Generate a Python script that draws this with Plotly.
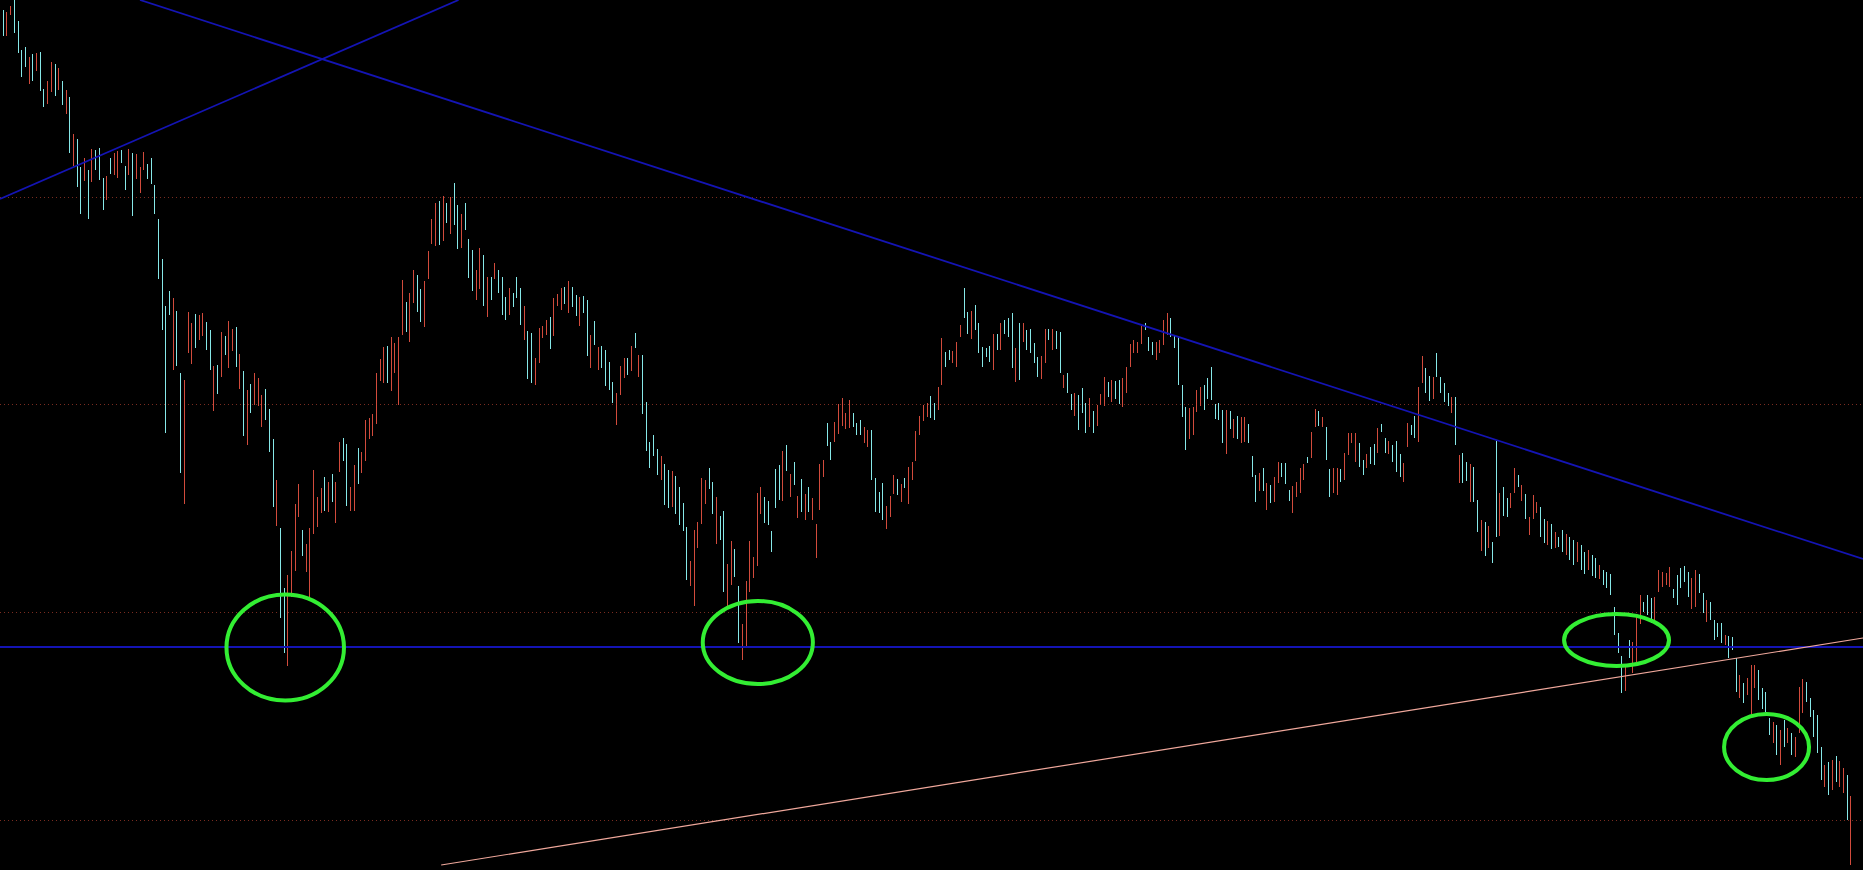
import plotly.graph_objects as go

# ---- price data (bar index = time, values in price points) ----
highs = [
    860, 858, 864, 875, 849, 820, 823, 813, 816, 817,
    818, 781, 789, 808, 806, 802, 789, 780, 773, 736,
    731, 703, 712, 700, 721, 720, 722, 692, 694, 712,
    717, 719, 720, 704, 721, 717, 716, 703, 718, 706,
    712, 685, 651, 611, 564, 579, 572, 559, 497, 490,
    558, 547, 556, 555, 557, 548, 540, 504, 505, 538,
    534, 549, 541, 543, 516, 499, 480, 486, 497, 492,
    475, 481, 461, 431, 390, 342, 282, 295, 319, 366,
    386, 340, 326, 342, 400, 373, 382, 393, 388, 396,
    388, 428, 432, 426, 383, 405, 422, 418, 450, 452,
    456, 497, 511, 523, 524, 533, 527, 533, 590, 568,
    577, 600, 595, 581, 589, 619, 651, 667, 669, 674,
    667, 673, 687, 665, 656, 667, 631, 620, 600, 622,
    615, 593, 593, 607, 600, 593, 573, 582, 577, 593,
    582, 564, 539, 537, 512, 542, 544, 550, 553, 572,
    576, 582, 583, 589, 583, 575, 573, 574, 570, 535,
    549, 523, 524, 520, 508, 488, 477, 504, 512, 512,
    524, 537, 515, 515, 468, 428, 435, 421, 414, 406,
    400, 399, 394, 383, 367, 343, 309, 340, 348, 392,
    390, 402, 388, 373, 354, 359, 306, 329, 321, 284,
    246, 289, 329, 313, 377, 383, 373, 369, 339, 401,
    405, 419, 425, 396, 408, 374, 391, 376, 383, 372,
    346, 406, 410, 447, 428, 448, 466, 472, 457, 470,
    457, 447, 450, 443, 440, 440, 392, 378, 387, 364,
    374, 395, 391, 386, 392, 403, 408, 439, 454, 465,
    467, 474, 467, 483, 532, 518, 520, 519, 528, 545,
    582, 558, 559, 565, 547, 523, 522, 524, 536, 536,
    547, 550, 552, 557, 522, 547, 547, 540, 541, 527,
    513, 514, 541, 541, 541, 539, 538, 495, 497, 476,
    477, 475, 482, 467, 472, 459, 465, 476, 493, 488,
    490, 489, 490, 492, 503, 526, 530, 528, 544, 547,
    533, 528, 528, 530, 550, 557, 552, 535, 534, 485,
    463, 462, 463, 480, 483, 485, 492, 503, 466, 467,
    460, 460, 459, 451, 454, 453, 453, 446, 414, 395,
    397, 402, 387, 385, 393, 408, 407, 407, 380, 384,
    388, 402, 406, 413, 438, 461, 459, 453, 443, 401,
    402, 402, 401, 417, 437, 437, 437, 427, 410, 416,
    423, 426, 442, 446, 432, 429, 425, 429, 416, 407,
    447, 445, 454, 483, 514, 502, 494, 493, 517, 493,
    487, 477, 473, 473, 415, 417, 408, 406, 403, 370,
    350, 348, 344, 328, 429, 377, 383, 372, 377, 402,
    395, 385, 376, 353, 375, 368, 363, 351, 349, 346,
    338, 333, 340, 336, 333, 330, 328, 325, 318, 320,
    315, 312, 305, 300, 298, 296, 263, 237, 214, 205,
    230, 228, 254, 275, 268, 275, 272, 273, 300, 298,
    297, 303, 281, 295, 302, 304, 298, 292, 300, 296,
    277, 270, 268, 250, 247, 247, 235, 234, 233, 212,
    195, 187, 192, 205, 205, 200, 182, 178, 152, 148,
    145, 140, 150, 142, 137, 133, 183, 191, 188, 172,
    160, 155, 123, 105, 108, 110, 114, 109, 102, 95, 74,
]

lows = [
    834, 834, 855, 837, 817, 793, 803, 786, 789, 799,
    779, 763, 766, 778, 774, 780, 765, 756, 717, 704,
    683, 656, 689, 651, 688, 700, 690, 660, 670, 696,
    695, 692, 707, 680, 695, 654, 691, 677, 700, 691,
    686, 656, 591, 540, 437, 555, 500, 504, 397, 366,
    517, 506, 522, 530, 534, 520, 500, 459, 476, 493,
    515, 502, 519, 503, 481, 434, 425, 457, 465, 464,
    443, 450, 418, 363, 344, 252, 217, 204, 273, 299,
    353, 314, 298, 273, 336, 343, 357, 359, 358, 368,
    347, 398, 409, 364, 359, 359, 386, 397, 409, 431,
    434, 446, 489, 487, 487, 479, 497, 465, 535, 538,
    528, 567, 558, 548, 543, 591, 626, 624, 625, 629,
    647, 636, 645, 621, 622, 640, 592, 579, 570, 581,
    564, 553, 570, 591, 577, 555, 550, 555, 563, 572,
    545, 530, 491, 487, 485, 507, 532, 535, 521, 534,
    564, 560, 566, 557, 563, 554, 544, 557, 514, 502,
    525, 500, 502, 484, 480, 467, 445, 475, 492, 495,
    499, 522, 493, 456, 419, 402, 414, 395, 390, 365,
    362, 363, 356, 345, 339, 290, 284, 264, 322, 346,
    366, 381, 356, 326, 330, 278, 264, 285, 293, 227,
    210, 223, 278, 292, 304, 356, 347, 345, 318, 362,
    370, 369, 399, 373, 385, 352, 358, 350, 358, 350,
    312, 360, 393, 424, 410, 428, 436, 444, 441, 442,
    443, 435, 435, 427, 423, 390, 358, 357, 350, 341,
    353, 376, 375, 368, 382, 366, 390, 409, 435, 449,
    453, 452, 450, 460, 485, 503, 510, 507, 503, 533,
    552, 536, 531, 540, 517, 503, 513, 508, 500, 520,
    520, 536, 533, 502, 488, 490, 528, 520, 517, 507,
    493, 491, 507, 530, 520, 521, 497, 482, 477, 460,
    454, 440, 457, 437, 443, 437, 444, 465, 464, 473,
    468, 471, 466, 463, 477, 503, 517, 517, 526, 540,
    519, 515, 510, 517, 525, 535, 533, 522, 485, 453,
    420, 431, 435, 458, 464, 460, 471, 470, 451, 450,
    427, 416, 441, 432, 431, 427, 428, 427, 393, 368,
    379, 379, 360, 367, 368, 387, 393, 386, 369, 357,
    373, 377, 390, 407, 412, 443, 444, 443, 410, 373,
    377, 375, 388, 390, 415, 427, 408, 403, 395, 402,
    406, 405, 417, 438, 417, 416, 408, 398, 393, 388,
    423, 435, 432, 428, 487, 477, 469, 471, 493, 477,
    468, 464, 457, 425, 387, 387, 389, 368, 368, 338,
    319, 314, 322, 307, 333, 334, 354, 353, 362, 377,
    383, 369, 351, 335, 351, 357, 333, 327, 325, 321,
    322, 323, 318, 315, 310, 305, 308, 300, 296, 300,
    294, 292, 291, 285, 282, 275, 235, 217, 177, 179,
    212, 197, 208, 246, 258, 255, 247, 248, 278, 283,
    285, 283, 272, 265, 282, 288, 273, 261, 263, 277,
    257, 248, 250, 230, 233, 227, 225, 212, 220, 178,
    172, 167, 175, 155, 182, 170, 161, 158, 135, 127,
    115, 105, 123, 127, 115, 113, 137, 157, 168, 153,
    133, 117, 90, 83, 75, 80, 88, 83, 77, 50, 5,
]

# r = bullish bar, c = bearish bar
directions = (
    "crrccccrcr" "ccrrcrcrcr" "ccrcrcccrc" "rrccrcrrrc" "ccccccrccr"
    "rrcrrccrcr" "crrcrcrcrr" "rcccrccrrr" "rcrrrrrcrc" "rrccrrcrrr"
    "rrrrcrrrrc" "rrccrrrrcr" "crccrcccrr" "crcrcccrcc" "crccrrrrcr"
    "rrcrccrccr" "crccccrrrc" "rcrcccccrc" "crccccrrrr" "rccrccrrcc"
    "rrrrrrcccc" "crcrcrcrcr" "rrrccrrrrr" "cccrrccccr" "rrcrcrrrrr"
    "rccrrccrrr" "ccrcccccrc" "rcccrcrccc" "crrcrccrcc" "rcccrcrrrc"
    "rccrrrrrrc" "ccrrrrcccc" "crrrrccccc" "crcrcrrccc" "rcrcrrcccr"
    "rrrcrrcrcc" "rrcrrrrccr" "ccrccrcccr" "rccrrccrcc" "ccrcrccrcc"
    "rcrccrccrr" "crcrrrccrc" "rccrccrccr" "ccrccccccr" "crrrcccrrr"
    "rrcccccrrc" "crccccrccc" "rcrrrccccr" "crcrcrrrcc" "cccrcrcrrcr"
)

grid_levels = [50.0, 257.7, 465.3, 673.0]
support_level = 223.0
down_line_x = [37.0, 503.3]
down_line_y = [870.0, 311.0]
up_line_x = [-0.9, 123.2]
up_line_y = [671.0, 870.0]
rising_line_x = [118.5, 503.3]
rising_line_y = [5.0, 232.0]
# ellipses: (x_left, x_right, y_low, y_high)
ellipses = [
    (60.4, 92.2, 169.5, 275.5),
    (189.3, 219.1, 186.0, 269.0),
    (422.4, 450.8, 204.0, 256.0),
    (465.7, 488.7, 90.0, 156.0),
]

assert len(highs) == len(lows) == len(directions), (len(highs), len(lows), len(directions))

n = len(highs)
xs = list(range(n))
opens = [lo if d == "r" else hi for hi, lo, d in zip(highs, lows, directions)]
closes = [hi if d == "r" else lo for hi, lo, d in zip(highs, lows, directions)]

RED = "#d24b3c"
CYAN = "#86e8e8"

fig = go.Figure()
fig.add_trace(go.Ohlc(
    x=xs, open=opens, high=highs, low=lows, close=closes,
    tickwidth=0,
    increasing=dict(line=dict(color=RED, width=1)),
    decreasing=dict(line=dict(color=CYAN, width=1)),
    hoverinfo="skip",
))

BLUE = "#1414b4"
shapes = [
    dict(type="line", xref="x", yref="y", x0=down_line_x[0], y0=down_line_y[0],
         x1=down_line_x[1], y1=down_line_y[1], line=dict(color=BLUE, width=1.8)),
    dict(type="line", xref="x", yref="y", x0=up_line_x[0], y0=up_line_y[0],
         x1=up_line_x[1], y1=up_line_y[1], line=dict(color=BLUE, width=1.8)),
    dict(type="line", xref="paper", yref="y", x0=0, x1=1, y0=support_level,
         y1=support_level, line=dict(color=BLUE, width=1.8)),
    dict(type="line", xref="x", yref="y", x0=rising_line_x[0], y0=rising_line_y[0],
         x1=rising_line_x[1], y1=rising_line_y[1], line=dict(color="#f0a89c", width=1.2)),
]
for (xl, xr, yl, yh) in ellipses:
    shapes.append(dict(type="circle", xref="x", yref="y", x0=xl, x1=xr, y0=yl, y1=yh,
                       line=dict(color="#33ee33", width=4)))

fig.update_layout(
    width=1863, height=870,
    margin=dict(l=0, r=0, t=0, b=0, pad=0),
    paper_bgcolor="#000000", plot_bgcolor="#000000",
    showlegend=False, dragmode=False, hovermode=False,
    shapes=shapes,
    xaxis=dict(range=[-0.893, 503.3], visible=False, rangeslider=dict(visible=False),
               fixedrange=True),
    yaxis=dict(range=[0, 870], tickvals=grid_levels, showticklabels=False, ticks="",
               showgrid=True, gridcolor="#7a2c20", gridwidth=1, griddash="1px,3px",
               zeroline=False, showline=False, fixedrange=True),
)

post = (
    "document.body.style.margin='0';document.body.style.overflow='hidden';"
    "var st=document.createElement('style');"
    "st.textContent='.ohlc path{shape-rendering:crispEdges;}';"
    "document.head.appendChild(st);"
)

fig.write_html(
    "out.html",
    config={"displayModeBar": False, "staticPlot": True},
    post_script=post,
)
